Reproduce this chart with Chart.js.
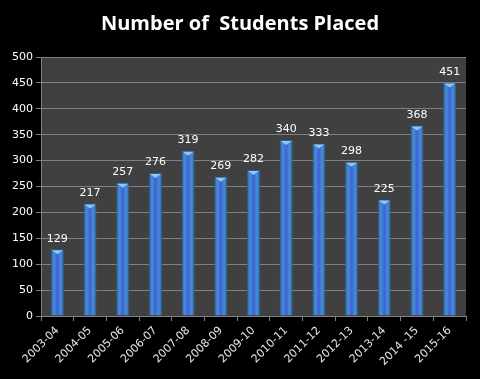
<!DOCTYPE html>
<html>
<head>
<meta charset="utf-8">
<script src="https://cdn.jsdelivr.net/npm/chart.js@4/dist/chart.umd.min.js"></script>
<style>
  html, body { margin: 0; padding: 0; background: #000; }
  #wrap { width: 480px; height: 379px; }
</style>
</head>
<body>
<div id="wrap"><canvas id="c"></canvas></div>
<script>
const years = ["2003-04", "2004-05", "2005-06", "2006-07", "2007-08", "2008-09", "2009-10",
               "2010-11", "2011-12", "2012-13", "2013-14", "2014 -15", "2015-16"];
const placed = [129, 217, 257, 276, 319, 269, 282, 340, 333, 298, 225, 368, 451];
const yMax = 500;
const yStep = 50;

// dark plot background + title + value labels
const decor = {
    id: "decor",
    beforeDraw(chart) {
        const { ctx, chartArea: a } = chart;
        ctx.save();
        ctx.fillStyle = "#000";
        ctx.fillRect(0, 0, chart.width, chart.height);
        ctx.fillStyle = "#404040";
        ctx.fillRect(a.left, a.top, a.right - a.left, a.bottom - a.top);
        ctx.fillStyle = "#fff";
        ctx.font = "bold 20px 'Open Sans', sans-serif";
        ctx.textAlign = "center";
        ctx.textBaseline = "middle";
        ctx.fillText("Number of  Students Placed", chart.width / 2, 24);
        ctx.restore();
    },
    afterDatasetsDraw(chart) {
        const { ctx } = chart;
        const meta = chart.getDatasetMeta(0);
        ctx.save();
        meta.data.forEach((bar, i) => {
            // light bevel at the top of each bar
            const half = bar.width / 2;
            ctx.fillStyle = "#8cc8f0";
            ctx.beginPath();
            ctx.moveTo(bar.x - half + 1, bar.y + 1);
            ctx.lineTo(bar.x + half - 1, bar.y + 1);
            ctx.lineTo(bar.x, bar.y + 5);
            ctx.closePath();
            ctx.fill();
        });
        ctx.fillStyle = "#fff";
        ctx.font = "11px 'DejaVu Sans', sans-serif";
        ctx.textAlign = "center";
        ctx.textBaseline = "bottom";
        meta.data.forEach((bar, i) => {
            ctx.fillText(String(placed[i]), bar.x, bar.y - 5);
        });
        ctx.restore();
    }
};

function barFill(context) {
    const chart = context.chart;
    const xs = chart.scales && chart.scales.x;
    if (!chart.chartArea || !xs || context.dataIndex === undefined) return "#3f7fd0";
    const cx = xs.getPixelForValue(context.dataIndex);
    const w = (chart.chartArea.right - chart.chartArea.left) / years.length * 0.4;
    if (!isFinite(cx) || !isFinite(w)) return "#3f7fd0";
    const g = chart.ctx.createLinearGradient(cx - w / 2, 0, cx + w / 2, 0);
    g.addColorStop(0, "#2b6f9a");
    g.addColorStop(0.25, "#4a8ad8");
    g.addColorStop(0.5, "#3d62d4");
    g.addColorStop(0.75, "#4a8ad8");
    g.addColorStop(1, "#2b6f9a");
    return g;
}

new Chart(document.getElementById("c"), {
    type: "bar",
    data: {
        labels: years,
        datasets: [{
            data: placed,
            backgroundColor: barFill,
            borderColor: "#2c5c9c",
            borderWidth: 1,
            barPercentage: 0.4,
            categoryPercentage: 1.0
        }]
    },
    options: {
        responsive: true,
        maintainAspectRatio: false,
        animation: false,
        layout: { padding: { top: 57, right: 14, left: 0, bottom: 0 } },
        plugins: {
            legend: { display: false },
            tooltip: { enabled: false },
            title: { display: false }
        },
        scales: {
            x: {
                grid: { drawOnChartArea: false, drawTicks: true, tickLength: 5, color: "#808080" },
                border: { color: "#808080" },
                ticks: {
                    color: "#e6e6e6",
                    font: { size: 11, family: "'DejaVu Sans', sans-serif" },
                    maxRotation: 45, minRotation: 45,
                    autoSkip: false
                },
                afterFit(s) { s.height = 63; }
            },
            y: {
                min: 0, max: yMax,
                grid: { color: "#808080", tickLength: 5 },
                border: { color: "#808080" },
                ticks: {
                    stepSize: yStep,
                    color: "#fff",
                    font: { size: 11, family: "'DejaVu Sans', sans-serif" },
                    padding: 3
                },
                afterFit(s) { s.width = 41; }
            }
        }
    },
    plugins: [decor]
});
</script>
</body>
</html>
